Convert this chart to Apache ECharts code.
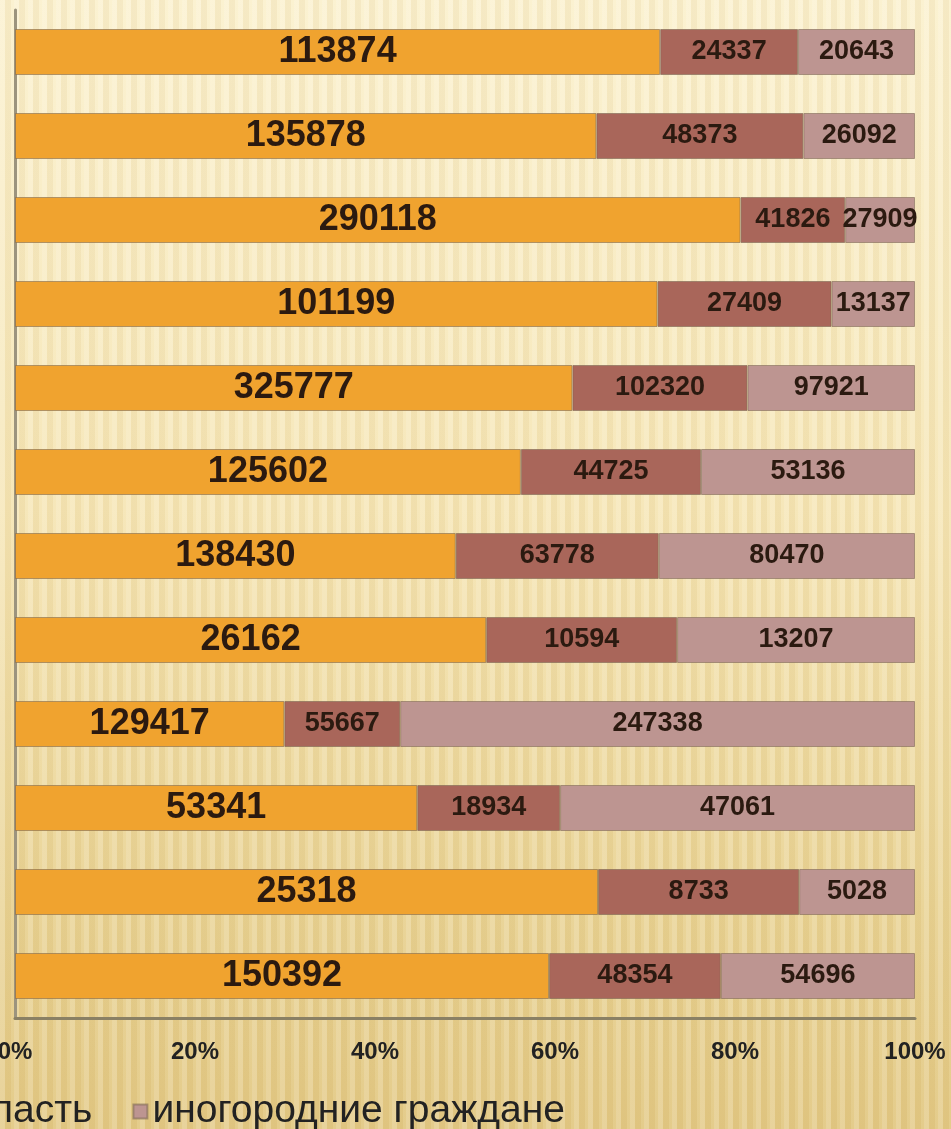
<!DOCTYPE html>
<html>
<head>
<meta charset="utf-8">
<script src="https://cdn.jsdelivr.net/npm/echarts@6/dist/echarts.min.js"></script>
<style>
  html, body { margin: 0; padding: 0; }
  body {
    width: 951px; height: 1129px; overflow: hidden;
    background:
      repeating-linear-gradient(90deg, rgba(255,255,255,0.18) 0 5px, rgba(170,130,50,0.07) 5px 11px, rgba(255,255,255,0.05) 11px 14px),
      linear-gradient(180deg, #fbf1cf 0%, #f6e6b6 45%, #e9d394 80%, #e3c985 100%);
  }
  #chart { width: 951px; height: 1129px; }
</style>
</head>
<body>
<div id="chart"></div>
<script>
// Rows, top to bottom
const categories = ['1', '2', '3', '4', '5', '6', '7', '8', '9', '10', '11', '12'];
const seriesNames = ['город', 'область', 'иногородние граждане'];
const cityValues     = [113874, 135878, 290118, 101199, 325777, 125602, 138430, 26162, 129417, 53341, 25318, 150392];
const regionValues   = [24337, 48373, 41826, 27409, 102320, 44725, 63778, 10594, 55667, 18934, 8733, 48354];
const visitorValues  = [20643, 26092, 27909, 13137, 97921, 53136, 80470, 13207, 247338, 47061, 5028, 54696];
const xTickValues    = [0, 20, 40, 60, 80, 100];

const rawSeries = [cityValues, regionValues, visitorValues];
const colors = ['#f0a32f', '#a9665a', '#bd9591'];

// share of each segment in its row total (100% stacked)
const totals = categories.map((_, i) => rawSeries.reduce((s, arr) => s + arr[i], 0));
const shares = rawSeries.map(arr => arr.map((v, i) => v / totals[i] * 100));

const chart = echarts.init(document.getElementById('chart'), null, { renderer: 'canvas' });

const series = rawSeries.map((arr, k) => ({
  name: seriesNames[k],
  type: 'bar',
  stack: 'total',
  barWidth: 46,
  data: shares[k],
  itemStyle: {
    color: colors[k],
    borderColor: 'rgba(120,100,80,0.55)',
    borderWidth: 1
  },
  label: {
    show: true,
    position: 'inside',
    formatter: p => String(arr[p.dataIndex]),
    fontFamily: 'Liberation Sans, Arial, sans-serif',
    fontWeight: 'bold',
    fontSize: k === 0 ? 36 : 27,
    color: '#2b1a10'
  },
  emphasis: { disabled: true }
}));

chart.setOption({
  animation: false,
  backgroundColor: 'transparent',
  grid: { left: 15, right: 36, top: 10, height: 1008, containLabel: false, outerBoundsMode: 'none' },
  legend: {
    data: ['область', 'иногородние граждане'],
    left: -72,
    top: 1092,
    padding: 0,
    itemWidth: 14,
    itemHeight: 14,
    itemGap: 40,
    icon: 'rect',
    textStyle: {
      fontFamily: 'Liberation Sans, Arial, sans-serif',
      fontSize: 39,
      color: '#222'
    }
  },
  xAxis: {
    type: 'value',
    min: xTickValues[0],
    max: xTickValues[xTickValues.length - 1],
    interval: 20,
    axisLine: { show: true, lineStyle: { color: '#8a8064', width: 3 } },
    axisTick: { show: false },
    splitLine: { show: false },
    axisLabel: {
      formatter: '{value}%',
      margin: 22,
      fontFamily: 'Liberation Sans, Arial, sans-serif',
      fontWeight: 'bold',
      fontSize: 24,
      color: '#222'
    }
  },
  yAxis: {
    type: 'category',
    data: categories,
    inverse: true,
    axisLine: { show: true, lineStyle: { color: '#9c947e', width: 3 } },
    axisTick: { show: false },
    axisLabel: { show: false },
    splitLine: { show: false }
  },
  series: series
});
</script>
</body>
</html>
